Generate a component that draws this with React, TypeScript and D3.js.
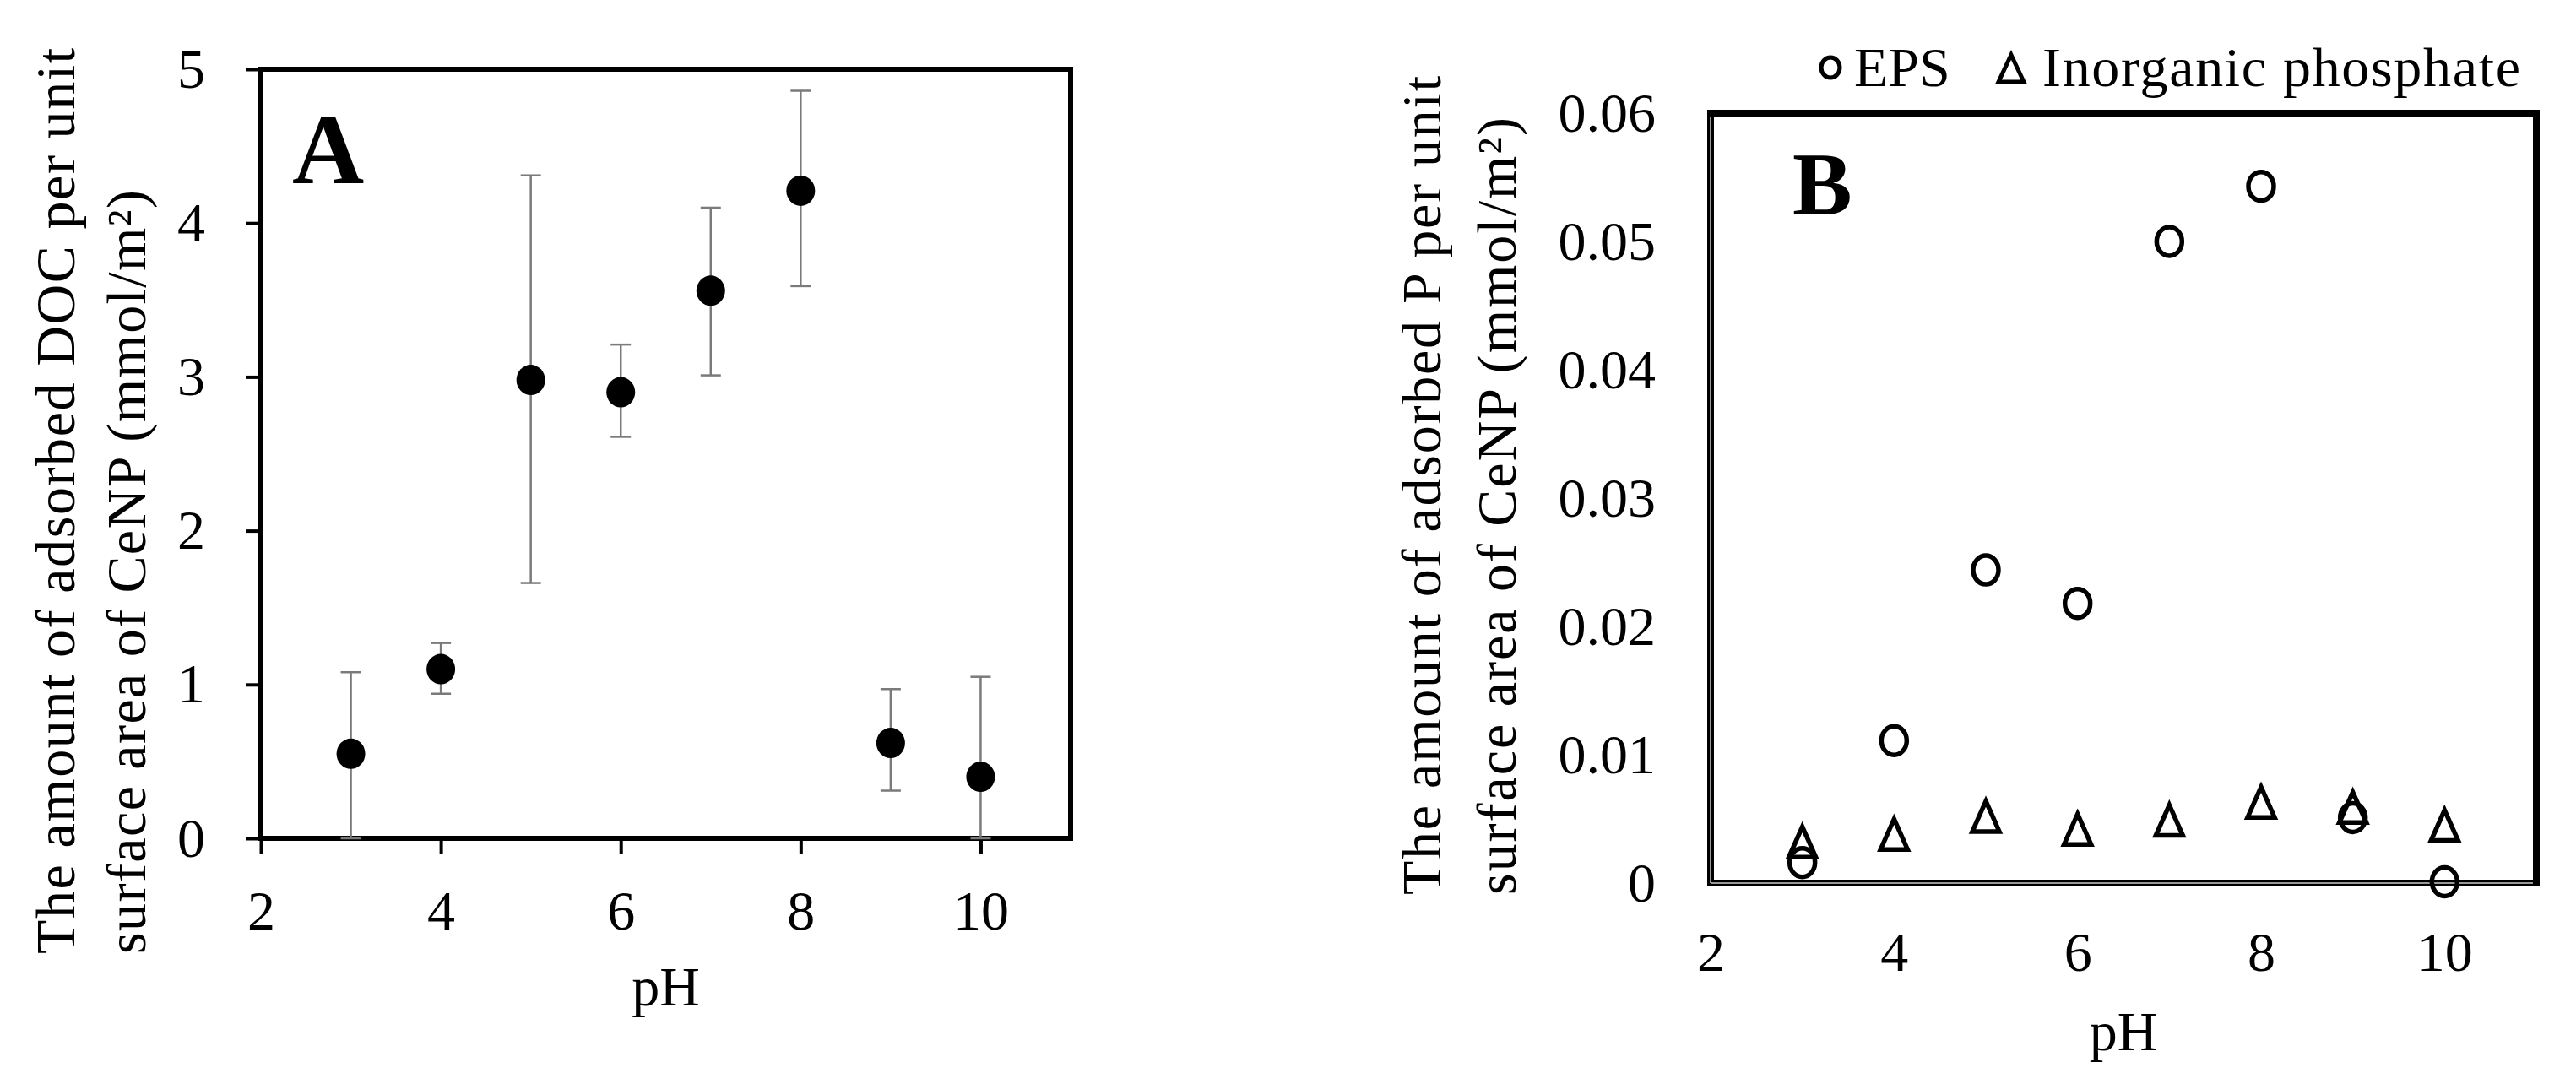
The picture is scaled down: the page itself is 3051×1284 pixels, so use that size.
import { useEffect, useRef } from "react";
import * as d3 from "d3";

// pH values shared by both panels
const pH = [3, 4, 5, 6, 7, 8, 9, 10];

// Panel A: adsorbed DOC (mmol/m2) with error bar limits
const docMean = [0.55, 1.1, 2.98, 2.9, 3.56, 4.21, 0.62, 0.4];
const docUpper = [1.08, 1.27, 4.31, 3.21, 4.1, 4.86, 0.97, 1.05];
const docLower = [0.0, 0.94, 1.66, 2.61, 3.01, 3.59, 0.31, 0.0];

// Panel B: adsorbed P (mmol/m2)
const seriesNames = ["EPS", "Inorganic phosphate"];
const epsP = [0.0016, 0.0111, 0.0244, 0.0218, 0.05, 0.0543, 0.0051, 0.0001];
const inorganicP = [0.0032, 0.0038, 0.0052, 0.0042, 0.0049, 0.0063, 0.0059, 0.0045];

const xTicks = [2, 4, 6, 8, 10];
const yTicksA = [0, 1, 2, 3, 4, 5];
const yTicksB = [0, 0.01, 0.02, 0.03, 0.04, 0.05, 0.06];

const W = 3051;
const H = 1284;
const font = '"Liberation Serif", "Times New Roman", serif';

const boxA = { left: 309, right: 1268, top: 82, bottom: 993 };
const boxB = { left: 2026, right: 3004, top: 134, bottom: 1046 };

const triangle = (x: number, y: number, w: number, h: number) =>
  `M${x},${y - h / 2}L${x + w / 2},${y + h / 2}L${x - w / 2},${y + h / 2}Z`;

const App = () => {
  const xAxisA = useRef<SVGGElement>(null);
  const yAxisA = useRef<SVGGElement>(null);
  const xAxisB = useRef<SVGGElement>(null);
  const yAxisB = useRef<SVGGElement>(null);

  const xA = d3.scaleLinear().domain([2, 11]).range([boxA.left, boxA.right]);
  const yA = d3.scaleLinear().domain([0, 5]).range([boxA.bottom, boxA.top]);
  const xB = d3.scaleLinear().domain([2, 11]).range([boxB.left, boxB.right]);
  const yB = d3.scaleLinear().domain([0, 0.06]).range([boxB.bottom, boxB.top]);

  useEffect(() => {
    const style = (g: any) => {
      g.select(".domain").remove();
      g.selectAll("text")
        .attr("font-family", font)
        .attr("font-size", 66)
        .attr("fill", "#000");
      g.selectAll("line").attr("stroke", "#000").attr("stroke-width", 4);
    };
    d3.select(xAxisA.current)
      .call(d3.axisBottom(xA).tickValues(xTicks).tickSize(18).tickPadding(43).tickFormat(d3.format("d")) as any)
      .call(style);
    d3.select(yAxisA.current)
      .call(d3.axisLeft(yA).tickValues(yTicksA).tickSize(18).tickPadding(48).tickFormat(d3.format("d")) as any)
      .call(style);
    d3.select(xAxisB.current)
      .call(d3.axisBottom(xB).tickValues(xTicks).tickSize(0).tickPadding(57).tickFormat(d3.format("d")) as any)
      .call(style);
    d3.select(yAxisB.current)
      .call(
        d3
          .axisLeft(yB)
          .tickValues(yTicksB)
          .tickSize(0)
          .tickPadding(65)
          .tickFormat((d: any) => (d === 0 ? "0" : d3.format(".2f")(d))) as any
      )
      .call(style);
  }, []);

  return (
    <svg
      width={W}
      height={H}
      viewBox={`0 0 ${W} ${H}`}
      style={{ position: "absolute", left: 0, top: 0, background: "#fff" }}
      fontFamily={font}
    >
      <rect x={0} y={0} width={W} height={H} fill="#fff" />

      {/* ---------- Panel A ---------- */}
      <rect
        x={boxA.left}
        y={boxA.top}
        width={boxA.right - boxA.left}
        height={boxA.bottom - boxA.top}
        fill="none"
        stroke="#000"
        strokeWidth={6}
      />
      <g ref={xAxisA} transform={`translate(0,${boxA.bottom})`} />
      <g ref={yAxisA} transform={`translate(${boxA.left},0)`} />

      {/* error bars */}
      <g stroke="#7a7a7a" strokeWidth={2.5}>
        {pH.map((p, i) => (
          <g key={p}>
            <line x1={xA(p)} x2={xA(p)} y1={yA(docLower[i])} y2={yA(docUpper[i])} />
            <line x1={xA(p) - 12} x2={xA(p) + 12} y1={yA(docUpper[i])} y2={yA(docUpper[i])} />
            <line x1={xA(p) - 12} x2={xA(p) + 12} y1={yA(docLower[i])} y2={yA(docLower[i])} />
          </g>
        ))}
      </g>
      {pH.map((p, i) => (
        <ellipse key={p} cx={xA(p)} cy={yA(docMean[i])} rx={17} ry={18} fill="#000" />
      ))}

      <text x={346} y={217} fontSize={118} fontWeight="bold">
        A
      </text>
      <text x={(boxA.left + boxA.right) / 2} y={1191} fontSize={66} textAnchor="middle">
        pH
      </text>
      <text
        transform="translate(88,1130) rotate(-90)"
        fontSize={66}
        textLength={1073}
        lengthAdjust="spacing"
      >
        The amount of adsorbed DOC per unit
      </text>
      <text
        transform="translate(172,1130) rotate(-90)"
        fontSize={66}
        textLength={905}
        lengthAdjust="spacing"
      >
        surface area of CeNP (mmol/m²)
      </text>

      {/* ---------- Panel B ---------- */}
      <rect
        x={boxB.left}
        y={boxB.top}
        width={boxB.right - boxB.left}
        height={boxB.bottom - boxB.top}
        fill="none"
        stroke="#000"
        strokeWidth={8}
      />
      <line x1={boxB.left} x2={boxB.left} y1={boxB.top + 4} y2={boxB.bottom} stroke="#999" strokeWidth={2} />
      <line x1={boxB.left} x2={boxB.right - 4} y1={boxB.bottom} y2={boxB.bottom} stroke="#999" strokeWidth={2} />
      <g ref={xAxisB} transform={`translate(0,${boxB.bottom})`} />
      <g ref={yAxisB} transform={`translate(${boxB.left},0)`} />

      <g fill="none" stroke="#000" strokeWidth={5.5}>
        {pH.map((p, i) => (
          <path key={`t${p}`} d={triangle(xB(p), yB(inorganicP[i]), 32, 36)} strokeLinejoin="miter" />
        ))}
        {pH.map((p, i) => (
          <ellipse key={`c${p}`} cx={xB(p)} cy={yB(epsP[i])} rx={15} ry={17} />
        ))}
      </g>

      {/* legend */}
      <ellipse cx={2168} cy={80} rx={11} ry={12} fill="none" stroke="#000" strokeWidth={5} />
      <text x={2196} y={102} fontSize={66}>
        {seriesNames[0]}
      </text>
      <path d={triangle(2382, 81, 30, 32)} fill="none" stroke="#000" strokeWidth={5} />
      <text x={2419} y={102} fontSize={66} textLength={566} lengthAdjust="spacing">
        {seriesNames[1]}
      </text>

      <text x={2123} y={254} fontSize={106} fontWeight="bold">
        B
      </text>
      <text x={(boxB.left + boxB.right) / 2} y={1244} fontSize={66} textAnchor="middle">
        pH
      </text>
      <text
        transform="translate(1706,1060) rotate(-90)"
        fontSize={66}
        textLength={970}
        lengthAdjust="spacing"
      >
        The amount of adsorbed P per unit
      </text>
      <text
        transform="translate(1795,1060) rotate(-90)"
        fontSize={66}
        textLength={921}
        lengthAdjust="spacing"
      >
        surface area of CeNP (mmol/m²)
      </text>
    </svg>
  );
};

export default App;
